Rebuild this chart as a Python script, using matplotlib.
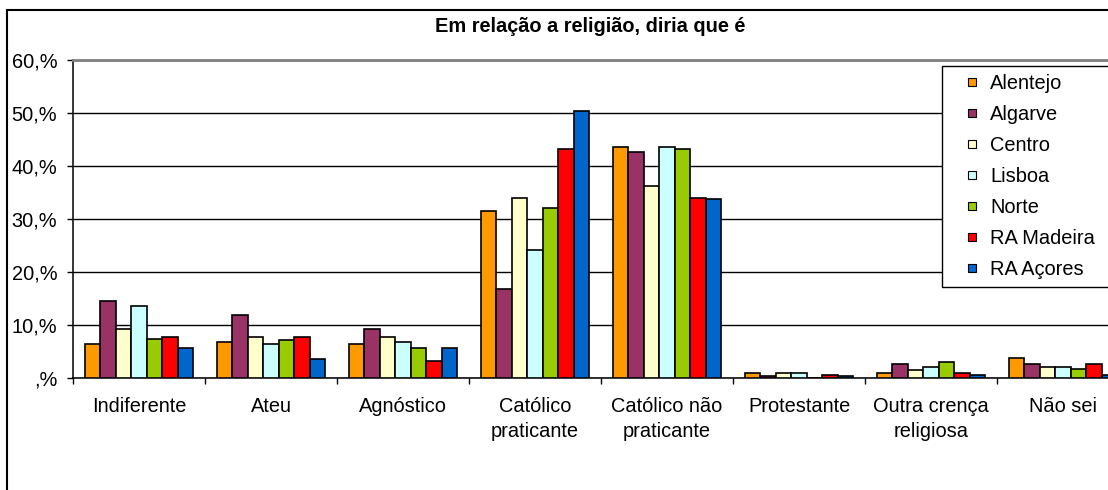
import matplotlib
matplotlib.use("Agg")
import matplotlib.pyplot as plt
from matplotlib.lines import Line2D
from matplotlib.patches import Rectangle
import numpy as np

plt.rcParams['font.family'] = ['Liberation Sans', 'DejaVu Sans']

# Data (percentages)
categories = ["Indiferente", "Ateu", "Agnóstico", "Católico\npraticante",
              "Católico não\npraticante", "Protestante", "Outra crença\nreligiosa", "Não sei"]
regions = ["Alentejo", "Algarve", "Centro", "Lisboa", "Norte", "RA Madeira", "RA Açores"]
colors = ["#FF9900", "#993366", "#FFFFCC", "#CCFFFF", "#99CC00", "#FF0000", "#0066CC"]

alentejo = [6.4, 6.7, 6.4, 31.6, 43.6, 0.9, 0.9, 3.8]
algarve = [14.5, 11.8, 9.2, 16.8, 42.6, 0.4, 2.7, 2.7]
centro = [9.2, 7.8, 7.8, 34.0, 36.2, 0.9, 1.6, 2.0]
lisboa = [13.5, 6.4, 6.7, 24.2, 43.6, 0.9, 2.0, 2.0]
norte = [7.4, 7.1, 5.7, 32.0, 43.2, 0.0, 3.1, 1.7]
madeira = [7.8, 7.8, 3.2, 43.2, 34.0, 0.6, 0.9, 2.7]
acores = [5.7, 3.5, 5.7, 50.3, 33.7, 0.3, 0.6, 0.6]
series = [alentejo, algarve, centro, lisboa, norte, madeira, acores]

yticks = [0, 10, 20, 30, 40, 50, 60]
ytick_labels = [",%", "10,%", "20,%", "30,%", "40,%", "50,%", "60,%"]

W, H = 1108, 490
fs = 14.4

fig = plt.figure(figsize=(W / 100, H / 100), dpi=100)

# outer chart border (cut off on the right and bottom)
fig.patches.append(Rectangle((7 / W, -0.1), 1.2, 1.1 - 10 / H, transform=fig.transFigure,
                             fill=False, edgecolor="black", linewidth=1.5))

ax = fig.add_axes([73 / W, 1 - 378 / H, 1056 / W, 318 / H])

bw = 1 / 8.5
x = np.arange(len(categories)) + 0.5
for j, (vals, c, name) in enumerate(zip(series, colors, regions)):
    ax.bar(x + (j - 3) * bw, vals, width=bw, color=c, edgecolor="black",
           linewidth=1.2, label=name, zorder=3)

ax.set_xlim(0, 8)
ax.set_ylim(0, 60)
ax.set_yticks(yticks)
ax.set_yticklabels(ytick_labels, fontsize=fs)
ax.tick_params(axis="y", direction="out", length=4.3, width=1, pad=7)

ax.set_xticks(np.arange(9))
ax.set_xticklabels([])
ax.set_xticks(x, minor=True)
ax.set_xticklabels(categories, minor=True, fontsize=fs, linespacing=1.4)
ax.tick_params(axis="x", which="major", direction="out", length=4.5, width=1)
ax.tick_params(axis="x", which="minor", length=0, pad=14)

ax.yaxis.grid(True, color="black", linewidth=1.0)
ax.set_axisbelow(True)

ax.spines["top"].set_color("#808080")
ax.spines["top"].set_linewidth(2)
ax.spines["right"].set_visible(False)
ax.spines["left"].set_linewidth(1.1)
ax.spines["bottom"].set_linewidth(1.1)

fig.text(590 / W, 1 - 32 / H, "Em relação a religião, diria que é", ha="center",
         va="baseline", fontsize=fs, fontweight="bold")

handles = [Line2D([], [], marker="s", linestyle="none", markersize=6,
                  markerfacecolor=c, markeredgecolor="black", markeredgewidth=0.8)
           for c in colors]
leg = ax.legend(handles, regions, loc="upper left",
                bbox_to_anchor=(942 / W, 1 - 66 / H, 180 / W, 0),
                bbox_transform=fig.transFigure, mode="expand", borderaxespad=0,
                borderpad=0.4, handlelength=2.2, handletextpad=-0.2, labelspacing=0.6,
                fontsize=fs, fancybox=False, framealpha=1)
leg.get_frame().set_edgecolor("black")
leg.get_frame().set_linewidth(1.0)

fig.savefig("out.png", dpi=100)
